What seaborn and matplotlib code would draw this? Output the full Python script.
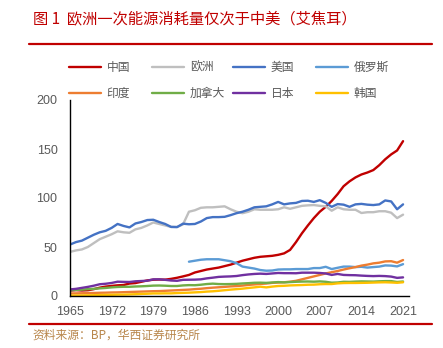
import numpy as np
import pandas as pd
import matplotlib
matplotlib.use("Agg")
import matplotlib.pyplot as plt
import seaborn as sns
from matplotlib.lines import Line2D

years = list(range(1965, 2022))

china = [5.5, 6.0, 5.6, 5.9, 7.0, 8.5, 9.6, 10.3, 10.9, 11.2,
         12.7, 13.2, 14.5, 15.9, 16.6, 16.8, 16.7, 17.5, 18.6, 20.0,
         21.5, 24.0, 25.5, 27.0, 28.0, 29.0, 30.5, 32.0, 34.0, 36.0,
         37.5, 39.0, 40.0, 40.5, 41.0, 42.0, 43.5, 47.0, 55.0, 64.0,
         72.0, 79.5, 86.0, 91.0, 97.0, 104.0, 112.0, 117.0, 121.0, 124.0,
         126.0, 128.5, 133.5, 139.5, 144.5, 148.5, 158.0]
europe = [45.0, 46.5, 47.5, 50.0, 54.0, 58.0, 60.5, 63.0, 66.0, 65.0,
          64.5, 68.0, 69.5, 72.0, 75.0, 73.5, 72.0, 70.5, 70.5, 73.0,
          86.0, 87.5, 90.0, 90.5, 90.5, 91.0, 91.5, 88.5, 86.0, 84.5,
          86.0, 88.5, 88.0, 88.0, 88.0, 88.5, 90.5, 89.0, 90.5, 92.0,
          92.5, 92.8, 92.0, 91.5, 87.0, 90.5, 88.5, 88.0, 88.0, 84.7,
          85.5, 85.5, 86.5, 86.5, 85.0, 79.5, 83.0]
usa = [52.5, 55.0, 56.5, 59.5, 62.5, 65.0, 66.5, 69.5, 73.5, 71.5,
       70.0, 74.0, 75.5, 77.5, 77.8, 75.5, 73.5, 70.5, 70.3, 73.8,
       73.2, 73.5, 76.0, 79.5, 80.5, 80.5, 80.8, 82.5, 84.5, 86.0,
       88.0, 90.5, 91.0, 91.5, 93.5, 96.0, 93.5, 94.5, 95.0, 97.0,
       97.2, 96.0, 97.8, 95.0, 91.0, 93.8, 93.2, 91.0, 93.5, 94.0,
       93.2, 92.8, 93.5, 97.5, 96.5, 88.5, 93.5]
russia = [np.nan] * 20 + [35.0, 36.0, 37.0, 37.5, 37.5, 37.5, 36.5, 35.5, 33.5, 30.0,
                          29.0, 28.0, 26.5, 25.8, 26.0, 27.0, 27.2, 27.2, 27.5, 27.5,
                          27.5, 28.5, 28.5, 29.8, 27.5, 28.8, 30.0, 30.0, 29.5, 29.8,
                          29.0, 29.5, 30.0, 31.2, 31.0, 30.2, 32.5]
india = [2.6, 2.7, 2.8, 3.0, 3.1, 3.3, 3.4, 3.6, 3.7, 3.9,
         4.1, 4.3, 4.5, 4.7, 4.9, 5.0, 5.3, 5.6, 5.9, 6.2,
         6.5, 7.0, 7.4, 8.0, 8.5, 8.9, 9.3, 9.8, 10.1, 10.6,
         11.3, 11.8, 12.3, 12.7, 13.4, 13.7, 14.0, 14.6, 15.5, 17.0,
         18.5, 20.0, 21.5, 23.0, 24.3, 25.5, 27.0, 28.3, 29.5, 31.0,
         32.0, 33.3, 34.0, 35.3, 35.5, 34.0, 36.7]
canada = [5.8, 6.2, 6.5, 7.0, 7.3, 7.8, 8.2, 8.8, 9.2, 9.4,
          9.4, 9.7, 9.9, 10.2, 10.6, 10.7, 10.5, 10.2, 10.2, 10.8,
          11.1, 11.0, 11.5, 12.2, 12.6, 12.2, 12.1, 12.2, 12.4, 12.8,
          13.1, 13.5, 13.6, 13.4, 13.8, 14.2, 13.9, 14.2, 14.5, 14.7,
          14.8, 14.6, 14.9, 14.5, 13.6, 13.8, 14.5, 14.4, 14.7, 14.9,
          14.8, 14.7, 15.0, 15.2, 15.2, 14.3, 14.8]
japan = [6.7, 7.3, 8.3, 9.3, 10.5, 12.0, 12.5, 13.3, 14.6, 14.4,
         14.3, 15.0, 15.3, 15.6, 17.0, 17.0, 16.5, 15.8, 15.5, 16.5,
         16.6, 16.7, 17.0, 18.0, 18.7, 19.5, 19.8, 20.0, 20.4, 21.3,
         22.0, 22.5, 22.8, 22.5, 23.0, 23.5, 23.3, 23.3, 23.2, 23.8,
         23.8, 23.8, 23.5, 23.0, 21.5, 22.5, 21.5, 21.3, 21.2, 20.8,
         20.5, 20.3, 20.5, 20.3, 19.8, 18.5, 19.0]
korea = [0.4, 0.5, 0.6, 0.7, 0.8, 1.0, 1.1, 1.2, 1.4, 1.4,
         1.6, 1.8, 2.1, 2.3, 2.6, 2.6, 2.7, 2.7, 3.0, 3.2,
         3.4, 3.7, 4.0, 4.5, 4.8, 5.3, 5.9, 6.5, 7.0, 7.5,
         8.2, 8.8, 9.5, 8.8, 9.6, 10.2, 10.4, 10.8, 11.0, 11.2,
         11.5, 11.6, 12.0, 12.2, 12.2, 12.9, 13.2, 13.3, 13.3, 13.4,
         13.5, 13.7, 13.9, 14.0, 13.8, 13.5, 14.0]

series_names = ["中国", "欧洲", "美国", "俄罗斯", "印度", "加拿大", "日本", "韩国"]
series_colors = ["#c00000", "#bfbfbf", "#4472c4", "#5b9bd5",
                 "#ed7d31", "#70ad47", "#7030a0", "#ffc000"]
xticks = [1965, 1972, 1979, 1986, 1993, 2000, 2007, 2014, 2021]
yticks = [0, 50, 100, 150, 200]

title_text = "图 1  欧洲一次能源消耗量仅次于中美（艾焦耳）"
source_text = "资料来源：BP，华西证券研究所"

sns.set_style("white")
plt.rcParams['font.family'] = ['Noto Sans CJK SC', 'DejaVu Sans']

wide = pd.DataFrame({"year": years, "中国": china, "欧洲": europe, "美国": usa,
                     "俄罗斯": russia, "印度": india, "加拿大": canada,
                     "日本": japan, "韩国": korea})
long = wide.melt(id_vars="year", var_name="series", value_name="value")

W, H = 443, 348
fig = plt.figure(figsize=(W / 100, H / 100), dpi=100)
ax = fig.add_axes([70 / W, 1 - 296 / H, (409 - 70) / W, 196 / H])

sns.lineplot(data=long, x="year", y="value", hue="series",
             hue_order=series_names,
             palette=dict(zip(series_names, series_colors)),
             linewidth=1.7, ax=ax, legend=True)

handles, labels = ax.get_legend_handles_labels()
hmap = {l: h for h, l in zip(handles, labels)}
if ax.get_legend() is not None:
    ax.get_legend().remove()

ax.set_xlim(1965, 2022)
ax.set_ylim(0, 200)
ax.set_xticks(xticks, labels=[str(t) for t in xticks])
ax.set_yticks(yticks, labels=[str(t) for t in yticks])
for lbl in ax.get_xticklabels() + ax.get_yticklabels():
    lbl.set_fontfamily('Liberation Sans')
ax.tick_params(axis='x', direction='in', length=4, width=1, color='black',
               pad=7.5, labelsize=9, labelcolor='#595959')
ax.tick_params(axis='y', direction='out', length=4, width=1, color='black',
               pad=5, labelsize=9, labelcolor='#595959')
ax.set_xlabel("")
ax.set_ylabel("")
for s in ["top", "right"]:
    ax.spines[s].set_visible(False)
for s in ["left", "bottom"]:
    ax.spines[s].set_color("black")
    ax.spines[s].set_linewidth(1)
ax.grid(False)

# legend: 4 columns x 2 rows
col_x = [69, 152, 233, 316]
for i in range(4):
    names = [series_names[i], series_names[i + 4]]
    hs = [hmap[n] for n in names]
    fig.legend(hs, names, loc='center left',
               bbox_to_anchor=(col_x[i] / W, 1 - 80.5 / H),
               frameon=False, fontsize=8.5, handlelength=2.7,
               handletextpad=0.5, borderpad=0, borderaxespad=0,
               labelspacing=1.15, labelcolor='#595959')

# title, separator lines, source
fig.text(33 / W, 1 - 19 / H, title_text, color='#c00000', fontsize=11,
         ha='left', va='center')
fig.add_artist(Line2D([29 / W, 432 / W], [1 - 44 / H, 1 - 44 / H],
                      color='#c00000', linewidth=1.6, transform=fig.transFigure))
fig.add_artist(Line2D([29 / W, 432 / W], [1 - 324 / H, 1 - 324 / H],
                      color='#c00000', linewidth=1.6, transform=fig.transFigure))
fig.text(32 / W, 1 - 335 / H, source_text, color='#b8864b', fontsize=8.5,
         ha='left', va='center')

fig.savefig("out.png", dpi=100)
